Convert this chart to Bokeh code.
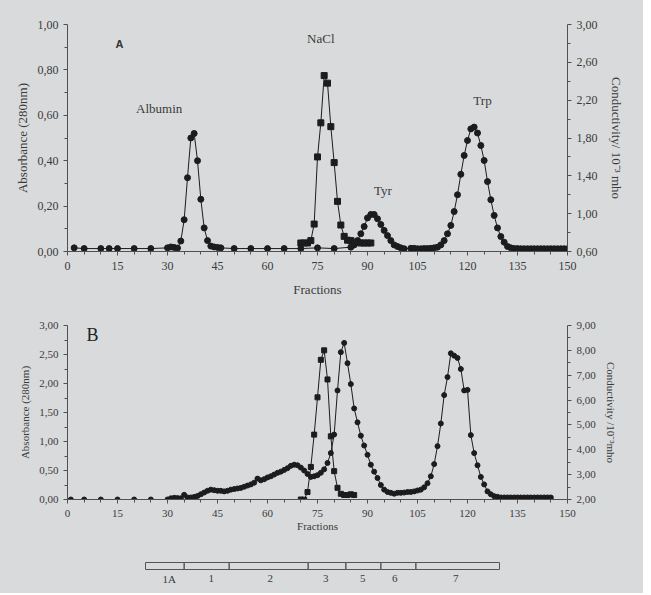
from bokeh.plotting import figure
from bokeh.models import Range1d, LinearAxis, FixedTicker, CustomJSTickFormatter, Label
from bokeh.layouts import column
from bokeh.embed import file_html
from bokeh.resources import INLINE

# ---------------- data ----------------
# Panel A: absorbance (circles, left axis)
a_abs_x = [2, 5, 10, 12.5, 15, 20, 25, 30, 31, 32, 33, 34, 35, 36, 37, 38, 39, 40, 41, 42, 43, 44, 45, 46,
           50, 55, 60, 65, 70, 75, 80,
           85, 86, 87, 88, 89, 90, 91, 92, 93, 94, 95, 96, 97, 98, 99, 100, 101,
           103, 104, 105, 106, 107, 108, 109, 110, 111, 112, 113, 114, 115, 116, 117, 118, 119, 120,
           121, 122, 123, 124, 125, 126, 127, 128, 129, 130, 131, 132, 133, 134, 135, 136, 137, 138,
           139, 140, 141, 142, 143, 144, 145, 146, 147, 148, 149, 150]
a_abs_y = [0.016, 0.013, 0.013, 0.013, 0.013, 0.013, 0.013, 0.016, 0.020, 0.018, 0.015, 0.046, 0.14, 0.325,
           0.50, 0.52, 0.40, 0.23, 0.104, 0.048, 0.024, 0.020, 0.018, 0.016,
           0.013, 0.013, 0.013, 0.013, 0.013, 0.016, 0.013,
           0.019, 0.029, 0.048, 0.078, 0.11, 0.148, 0.163, 0.163, 0.144, 0.119, 0.093, 0.070, 0.048,
           0.029, 0.022, 0.016, 0.012,
           0.014, 0.014, 0.012, 0.012, 0.013, 0.013, 0.014, 0.016, 0.019, 0.029, 0.048, 0.078, 0.115,
           0.176, 0.25, 0.34, 0.423, 0.489, 0.54, 0.548, 0.522, 0.467, 0.401, 0.308, 0.228, 0.159,
           0.104, 0.066, 0.041, 0.022, 0.016, 0.013, 0.013, 0.012, 0.012, 0.012, 0.012, 0.012, 0.012,
           0.012, 0.012, 0.012, 0.012, 0.012, 0.012, 0.012, 0.012, 0.012]
# Panel A: conductivity (squares, right axis, 10^-3 mho)
a_cond_x = [70, 71, 72, 73, 74, 75, 76, 77, 78, 79, 80, 81, 82, 83, 84, 85, 86, 87, 88, 89, 90, 91]
a_cond_y = [0.69, 0.69, 0.69, 0.715, 0.89, 1.60, 1.96, 2.46, 2.38, 1.92, 1.54, 1.13, 0.88, 0.76, 0.72,
            0.715, 0.69, 0.70, 0.69, 0.69, 0.69, 0.69]

# Panel B: absorbance (circles, left axis)
b_abs_x = [1, 5, 10, 15, 20, 25] + list(range(30, 146))
b_abs_y = [0, 0, 0, 0, 0, 0,
           0.0, 0.02, 0.03, 0.025, 0.02, 0.08, 0.035, 0.035, 0.045, 0.06,
           0.09, 0.12, 0.15, 0.17, 0.16, 0.15, 0.15, 0.14, 0.15, 0.17,
           0.18, 0.19, 0.20, 0.22, 0.24, 0.26, 0.29, 0.36, 0.33, 0.35,
           0.38, 0.40, 0.43, 0.46, 0.48, 0.51, 0.54, 0.58, 0.60, 0.59,
           0.55, 0.50, 0.44, 0.39, 0.40, 0.42, 0.46, 0.52, 0.63, 0.80,
           1.12, 1.88, 2.54, 2.70, 2.35, 1.99, 1.57, 1.33, 1.10, 0.93,
           0.77, 0.60, 0.48, 0.37, 0.25, 0.17, 0.13, 0.115, 0.10, 0.115,
           0.115, 0.12, 0.13, 0.13, 0.14, 0.155, 0.17, 0.21, 0.28, 0.40,
           0.61, 0.92, 1.31, 1.80, 2.11, 2.52, 2.48, 2.44, 2.25, 1.88,
           1.89, 1.11, 0.80, 0.59, 0.39, 0.26, 0.14, 0.09, 0.057, 0.046,
           0.035, 0.035, 0.035, 0.035, 0.035, 0.035, 0.035, 0.035, 0.035, 0.035,
           0.035, 0.035, 0.035, 0.035, 0.035, 0.035]
# Panel B: conductivity (squares, right axis)
b_cond_x = [70, 71, 72, 73, 74, 75, 76, 77, 78, 79, 80, 81, 82, 83, 84, 85, 86]
b_cond_y = [2.0, 1.99, 2.30, 3.31, 4.61, 6.11, 7.62, 8.0, 6.83, 4.54, 3.14, 2.47, 2.23, 2.18, 2.18, 2.21, 2.18]

# Pooled fractions bar
pool_edges = [23.4, 35.0, 48.5, 72.2, 83.5, 94.0, 104.5, 129.6]
pool_labels = ["1A", "1", "2", "3", "5", "6", "7"]
pool_label_x = [30.5, 43.1, 60.8, 77.5, 88.6, 98.2, 116.5]

# Peak annotations of panel A
a_notes = ["NaCl", "Albumin", "Tyr", "Trp"]
a_notes_x = [76.0, 27.5, 94.6, 124.5]
a_notes_y = [0.938, 0.63, 0.269, 0.665]

# ---------------- style ----------------
BG = "#d9dadc"
INK = "#3a3a3a"
LINE = "#1c1c1c"
AXC = "#505050"
FONT = "Liberation Serif"

comma_fmt = "return tick.toFixed(2).replace('.', ',');"


def style_axis(ax, major, minor, fsize, lsize, comma=True, label_standoff=5, major_standoff=5):
    ax.ticker = FixedTicker(ticks=major, minor_ticks=minor)
    if comma:
        ax.formatter = CustomJSTickFormatter(code=comma_fmt)
    ax.axis_line_color = AXC
    ax.major_tick_line_color = AXC
    ax.minor_tick_line_color = AXC
    ax.major_tick_in = 0
    ax.major_tick_out = 4
    ax.minor_tick_in = 0
    ax.minor_tick_out = 3
    ax.major_label_text_font = FONT
    ax.major_label_text_font_size = fsize
    ax.major_label_text_color = INK
    ax.axis_label_text_font = FONT
    ax.axis_label_text_font_size = lsize
    ax.axis_label_text_font_style = "normal"
    ax.axis_label_text_color = INK
    ax.axis_label_standoff = label_standoff
    ax.major_label_standoff = major_standoff


def make_fig(h, top, bottom, left, right, yr):
    p = figure(width=643, height=h, output_backend="svg", toolbar_location=None,
               x_range=Range1d(0, 150), y_range=Range1d(*yr),
               background_fill_color=BG, border_fill_color=BG,
               styles={"background-color": BG})
    p.min_border_top = top
    p.min_border_bottom = bottom
    p.min_border_left = left
    p.min_border_right = right
    p.outline_line_color = None
    p.grid.visible = False
    return p


# ---------------- panel A ----------------
pA = make_fig(300, 24, 49, 67, 75, (0, 1.0))
pA.extra_y_ranges = {"cond": Range1d(0.6, 3.0)}
pA.xaxis.axis_label = "Fractions"
pA.yaxis.axis_label = "Absorbance (280nm)"
style_axis(pA.xaxis[0], list(range(0, 151, 15)), list(range(0, 151, 5)), "12px", "13px",
           comma=False, label_standoff=9, major_standoff=6)
style_axis(pA.yaxis[0], [0, 0.2, 0.4, 0.6, 0.8, 1.0], [0.1, 0.3, 0.5, 0.7, 0.9], "12px", "13px")
rA = LinearAxis(y_range_name="cond", axis_label="Conductivity/ 10\u207b\u00b3 mho")
style_axis(rA, [0.6, 1.0, 1.4, 1.8, 2.2, 2.6, 3.0], [0.8, 1.2, 1.6, 2.0, 2.4, 2.8], "12px", "13px",
           label_standoff=8)
pA.add_layout(rA, "right")

pA.line(a_abs_x, a_abs_y, line_color=LINE, line_width=1)
pA.scatter(a_abs_x, a_abs_y, marker="circle", size=6, fill_color=LINE, line_color=LINE)
pA.line(a_cond_x, a_cond_y, y_range_name="cond", line_color=LINE, line_width=1)
pA.scatter(a_cond_x, a_cond_y, y_range_name="cond", marker="square", size=6,
           fill_color=LINE, line_color=LINE)

for t, x, y in zip(a_notes, a_notes_x, a_notes_y):
    pA.add_layout(Label(x=x, y=y, text=t, text_align="center", text_baseline="middle",
                        text_font=FONT, text_font_size="13px", text_color=INK))
pA.add_layout(Label(x=15.6, y=0.912, text="A", text_align="center", text_baseline="middle",
                    text_font="Liberation Sans", text_font_size="11px", text_font_style="bold",
                    text_color="#333333"))

# ---------------- panel B ----------------
pB = make_fig(240, 25, 41, 66, 76, (0, 3.0))
pB.extra_y_ranges = {"cond": Range1d(2.0, 9.0)}
pB.xaxis.axis_label = "Fractions"
pB.yaxis.axis_label = "Absorbance (280nm)"
style_axis(pB.xaxis[0], list(range(0, 151, 15)), list(range(0, 151, 5)), "11px", "11px",
           comma=False, label_standoff=0, major_standoff=6)
style_axis(pB.yaxis[0], [0, 0.5, 1.0, 1.5, 2.0, 2.5, 3.0], [0.25, 0.75, 1.25, 1.75, 2.25, 2.75],
           "11px", "11px")
rB = LinearAxis(y_range_name="cond", axis_label="Conductivity /10\u207b\u00b3mho")
style_axis(rB, [2, 3, 4, 5, 6, 7, 8, 9], [2.5, 3.5, 4.5, 5.5, 6.5, 7.5, 8.5], "11px", "11px",
           label_standoff=6)
pB.add_layout(rB, "right")

pB.line(b_abs_x, b_abs_y, line_color=LINE, line_width=1)
pB.scatter(b_abs_x, b_abs_y, marker="circle", size=5, fill_color=LINE, line_color=LINE)
pB.line(b_cond_x, b_cond_y, y_range_name="cond", line_color=LINE, line_width=1)
pB.scatter(b_cond_x, b_cond_y, y_range_name="cond", marker="square", size=5,
           fill_color=LINE, line_color=LINE)
pB.add_layout(Label(x=7.5, y=2.84, text="B", text_align="center", text_baseline="middle",
                    text_font=FONT, text_font_size="18px", text_color="#222222"))

# ---------------- pooled fraction bar ----------------
pC = make_fig(53, 0, 0, 66, 76, (53, 0))
pC.axis.visible = False
left_e = pool_edges[:-1]
right_e = pool_edges[1:]
pC.quad(left=left_e, right=right_e, top=22, bottom=29, fill_alpha=0, line_color="#555555", line_width=1)
pC.text(x=pool_label_x, y=[38] * len(pool_label_x), text=pool_labels, text_align="center",
        text_baseline="middle", text_font_size="11px", text_color=INK, text_font={"value": FONT})

layout = column(pA, pB, pC, spacing=0, styles={"background-color": BG})
open("out.html", "w").write(file_html(layout, INLINE))
